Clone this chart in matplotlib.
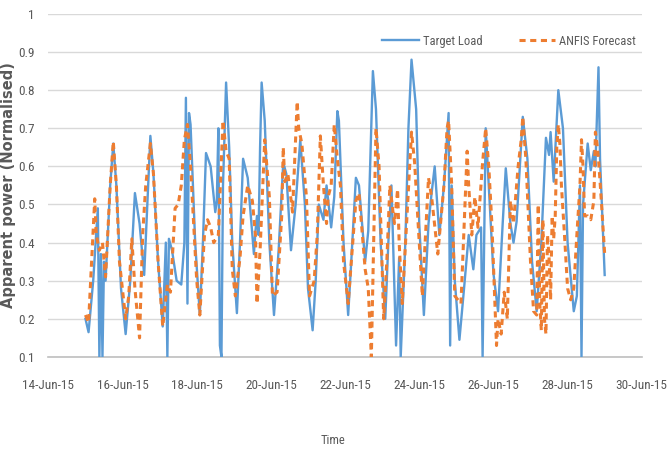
import matplotlib
matplotlib.use("Agg")
import matplotlib.pyplot as plt
import matplotlib.dates as mdates
from matplotlib import font_manager
import datetime as dt

# ---------------- data ----------------
start = dt.datetime(2015, 6, 15, 0, 0)

target_hours = [0, 2, 5, 8, 9, 10, 11, 12, 13, 16, 18, 20, 23, 26, 29, 32, 35, 38, 40, 42,
                44, 47, 50, 52, 53, 54, 56, 59, 62, 64, 65, 66, 67, 68, 71, 74, 76, 78, 81, 84,
                85, 86, 87, 88, 89, 91, 93, 95, 98, 100, 102, 105, 109, 110, 111, 112, 113, 114, 116, 119,
                122, 125, 128, 130, 133, 136, 139, 142, 144, 147, 149, 151, 154, 156, 159, 161, 163, 164, 167, 170,
                172, 175, 177, 181, 183, 186, 188, 191, 194, 196, 198, 201, 203, 204, 207, 209, 211, 214, 216, 219,
                222, 224, 226, 229, 232, 235, 236, 237, 239, 242, 245, 248, 251, 253, 256, 257, 259, 261, 264, 267,
                270, 272, 275, 277, 279, 283, 286, 289, 292, 295, 298, 300, 301, 303, 306, 309, 312, 316, 318, 320,
                321, 322, 325, 327, 329, 330, 332, 333, 336]
target_load = [0.20, 0.165, 0.30, 0.49, 0.10, 0.37, 0.10, 0.35, 0.30, 0.55, 0.66, 0.55, 0.28, 0.16, 0.30, 0.53, 0.45, 0.315, 0.50, 0.68,
               0.58, 0.35, 0.18, 0.40, 0.10, 0.41, 0.38, 0.30, 0.29, 0.40, 0.78, 0.24, 0.74, 0.71, 0.40, 0.21, 0.40, 0.635, 0.60, 0.48,
               0.51, 0.70, 0.13, 0.10, 0.55, 0.82, 0.65, 0.40, 0.215, 0.40, 0.62, 0.57, 0.37, 0.43, 0.47, 0.42, 0.65, 0.82, 0.72, 0.40,
               0.21, 0.38, 0.61, 0.58, 0.38, 0.50, 0.67, 0.50, 0.28, 0.17, 0.30, 0.50, 0.46, 0.55, 0.44, 0.52, 0.745, 0.72, 0.40, 0.21,
               0.35, 0.57, 0.55, 0.35, 0.43, 0.85, 0.75, 0.40, 0.20, 0.40, 0.55, 0.13, 0.36, 0.10, 0.40, 0.70, 0.88, 0.75, 0.45, 0.21,
               0.45, 0.53, 0.60, 0.42, 0.55, 0.74, 0.13, 0.55, 0.30, 0.145, 0.28, 0.42, 0.33, 0.42, 0.44, 0.10, 0.70, 0.55, 0.32, 0.22,
               0.45, 0.595, 0.45, 0.40, 0.455, 0.73, 0.62, 0.35, 0.22, 0.40, 0.675, 0.63, 0.69, 0.56, 0.80, 0.70, 0.40, 0.22, 0.26, 0.55,
               0.10, 0.50, 0.66, 0.59, 0.64, 0.60, 0.86, 0.62, 0.315]

forecast_hours = [0, 2, 6, 7, 9, 11, 13, 16, 18, 20, 22, 26, 28, 30, 32, 35, 37, 39, 42, 44,
                  47, 50, 53, 55, 58, 60, 62, 64, 66, 68, 70, 72, 74, 77, 79, 81, 83, 86, 89, 91,
                  93, 95, 97, 100, 102, 105, 108, 110, 111, 113, 116, 117, 119, 121, 124, 127, 128, 129, 131, 134,
                  137, 138, 140, 143, 145, 148, 150, 152, 154, 156, 157, 159, 161, 163, 165, 167, 170, 173, 175, 177,
                  181, 183, 185, 188, 190, 193, 195, 197, 199, 200, 202, 203, 205, 209, 211, 213, 216, 218, 222, 224,
                  228, 232, 234, 235, 237, 239, 243, 247, 248, 250, 252, 254, 257, 259, 261, 263, 266, 267, 269, 271,
                  273, 275, 277, 280, 282, 283, 285, 288, 290, 292, 293, 294, 295, 296, 297, 298, 299, 300, 301, 302,
                  303, 304, 305, 306, 307, 308, 310, 312, 314, 316, 318, 320, 321, 322, 323, 325, 327, 329, 330, 331,
                  332, 334, 336]
anfis_forecast = [0.21, 0.19, 0.515, 0.42, 0.38, 0.40, 0.31, 0.55, 0.665, 0.55, 0.35, 0.20, 0.26, 0.41, 0.28, 0.15, 0.42, 0.55, 0.66, 0.58,
                  0.35, 0.18, 0.29, 0.27, 0.49, 0.50, 0.55, 0.67, 0.71, 0.60, 0.45, 0.30, 0.21, 0.42, 0.46, 0.44, 0.40, 0.42, 0.72, 0.64,
                  0.62, 0.33, 0.26, 0.36, 0.47, 0.55, 0.51, 0.42, 0.24, 0.38, 0.67, 0.62, 0.52, 0.26, 0.27, 0.47, 0.65, 0.56, 0.58, 0.48,
                  0.77, 0.70, 0.66, 0.52, 0.26, 0.30, 0.42, 0.68, 0.55, 0.45, 0.52, 0.55, 0.71, 0.62, 0.55, 0.35, 0.24, 0.40, 0.51, 0.53,
                  0.33, 0.28, 0.10, 0.70, 0.60, 0.20, 0.35, 0.55, 0.48, 0.45, 0.54, 0.40, 0.24, 0.54, 0.69, 0.61, 0.40, 0.26, 0.57, 0.52,
                  0.37, 0.55, 0.70, 0.72, 0.55, 0.26, 0.24, 0.64, 0.55, 0.42, 0.52, 0.44, 0.61, 0.70, 0.60, 0.45, 0.13, 0.20, 0.16, 0.27,
                  0.20, 0.51, 0.45, 0.60, 0.67, 0.73, 0.62, 0.35, 0.22, 0.21, 0.50, 0.24, 0.17, 0.46, 0.20, 0.16, 0.42, 0.36, 0.25, 0.47,
                  0.41, 0.47, 0.65, 0.71, 0.66, 0.55, 0.42, 0.28, 0.25, 0.28, 0.42, 0.55, 0.67, 0.60, 0.47, 0.47, 0.46, 0.51, 0.69, 0.66,
                  0.62, 0.50, 0.37]

series_labels = ["Target Load", "ANFIS Forecast"]
y_ticks = [0.1, 0.2, 0.3, 0.4, 0.5, 0.6, 0.7, 0.8, 0.9, 1.0]
y_tick_labels = ["0.1", "0.2", "0.3", "0.4", "0.5", "0.6", "0.7", "0.8", "0.9", "1"]
x_label = "Time"
y_label = "Apparent power (Normalised)"

# ---------------- styling ----------------
names = {f.name for f in font_manager.fontManager.ttflist}
narrow = None
for cand in ["Liberation Sans Narrow", "DejaVu Sans Condensed", "Roboto Condensed", "Open Sans Condensed"]:
    if cand in names:
        narrow = cand
        break
if narrow is None:
    narrow = "Liberation Sans"
    tick_fs = 9.0
else:
    tick_fs = 9.5
grey = "#595959"

t_times = [start + dt.timedelta(hours=h) for h in target_hours]
f_times = [start + dt.timedelta(hours=h) for h in forecast_hours]

fig = plt.figure(figsize=(6.72, 4.49), dpi=100)
ax = fig.add_axes([0.072, 0.205, 0.883, 0.764])

ax.plot(t_times, target_load, color="#5B9BD5", lw=1.7, label=series_labels[0], zorder=3,
        solid_joinstyle="round")
ax.plot(f_times, anfis_forecast, color="#ED7D31", lw=2.2, ls=(0, (2.0, 1.5)), label=series_labels[1], zorder=4)

ax.set_ylim(0.1, 1.0)
ax.set_xlim(dt.datetime(2015, 6, 14), dt.datetime(2015, 6, 30))
ax.set_yticks(y_ticks)
ax.set_yticklabels(y_tick_labels)
ax.xaxis.set_major_locator(mdates.DayLocator(bymonthday=range(14, 31, 2)))
ax.xaxis.set_major_formatter(mdates.DateFormatter("%d-%b-%y"))

ax.grid(axis="y", color="#d9d9d9", lw=1.0, zorder=0)
for s in ["top", "right", "left"]:
    ax.spines[s].set_visible(False)
ax.spines["bottom"].set_color("#bfbfbf")
ax.spines["bottom"].set_linewidth(1.2)

ax.tick_params(axis="both", length=0, colors=grey)
ax.tick_params(axis="x", pad=16)
ax.tick_params(axis="y", pad=10)
for lab in ax.get_xticklabels() + ax.get_yticklabels():
    lab.set_fontfamily(narrow)
    lab.set_fontsize(tick_fs)
    lab.set_color(grey)

fig.text(0.0125, 0.587, y_label, rotation=90, ha="center", va="center",
         fontsize=10.5, fontweight="bold", color=grey, family="DejaVu Sans")
fig.text(0.495, 0.018, x_label, ha="center", va="center", fontsize=9, color=grey, family=narrow)

leg = ax.legend(loc="center right", bbox_to_anchor=(0.999, 0.92), ncol=2, frameon=False,
                prop={"family": narrow, "size": 9}, handlelength=2.9, handletextpad=0.35,
                columnspacing=2.9, borderaxespad=0)
for t in leg.get_texts():
    t.set_color(grey)

fig.savefig("out.png", dpi=100)
